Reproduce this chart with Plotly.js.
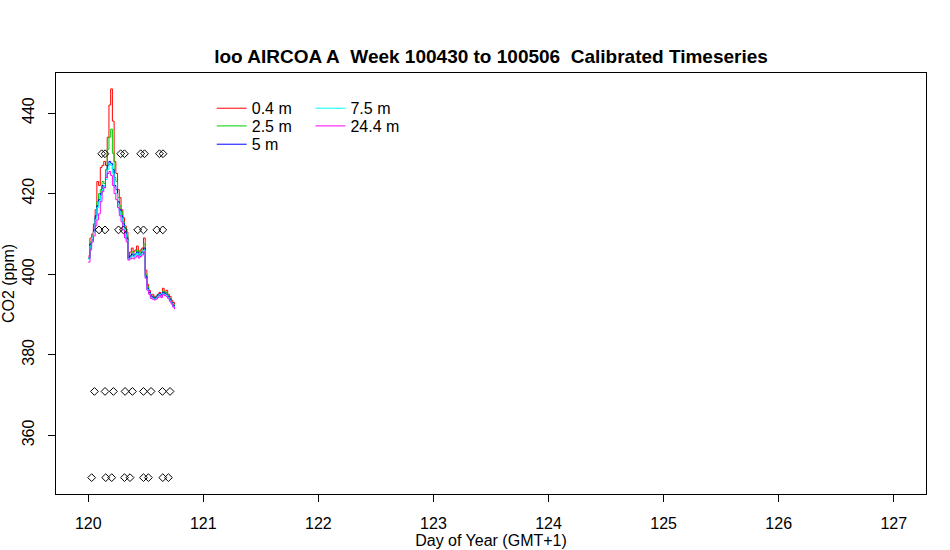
<!DOCTYPE html>
<html>
<head>
<meta charset="utf-8">
<script src="https://cdn.plot.ly/plotly-3.0.1.min.js"></script>
<style>html,body{margin:0;padding:0;background:#fff;}#chart{width:950px;height:550px;}</style>
</head>
<body>
<div id="chart"></div>
<script>
// Day of year (GMT+1)
const days = [120.000,120.015,120.030,120.045,120.060,120.075,120.090,120.105,120.120,120.135,
  120.150,120.165,120.180,120.195,120.210,120.225,120.240,120.255,120.270,120.285,
  120.300,120.315,120.330,120.345,120.360,120.375,120.390,120.405,120.420,120.435,
  120.450,120.465,120.480,120.495,120.510,120.525,120.540,120.555,120.570,120.585,
  120.600,120.615,120.630,120.645,120.660,120.675,120.690,120.705,120.720,120.735,120.750];

// CO2 (ppm) per inlet height
const co2_0_4m = [404.5,409,410,412.5,416,423,422,426.5,427,428,
  427,434,442,446,438,428,425,421,419,416,
  414,412,410.5,404.5,405.5,406.5,405.5,406,407,405.5,
  406,406.5,409,401,397.5,396,395,395,394.5,394.5,
  395,395.5,395,396.5,395.5,396,395,394.5,393.5,393,392.5];
const co2_2_5m = [404,408,409.5,410.5,414,418,420,421,423,422.5,
  426,431,434,436,430,424,423,419,417,415.5,
  413,411.5,409.5,404,404.5,405.5,405,405,406,405,
  405.5,406,407.5,400,397,395.5,394.8,394.5,394.2,394.5,
  394.8,395,394.5,395.8,395,395.5,394.8,394,393,392.5,392];
const co2_5m = [404,407.5,408.5,411,414.5,417,418.5,420,422,421.5,
  424,427,428,427.5,426,422,421,418,416,414.5,
  412.5,410.5,409,404,404.5,405,404.5,405,405.5,404.5,
  405,405.5,406.5,399.5,396.5,395.5,394.6,394.3,394,394.3,
  394.8,395.2,394.6,395.5,395.2,395,394.5,393.8,393,392.2,391.8];
const co2_7_5m = [403.8,407,409,410.5,413.5,416.5,418,419.5,421,422,
  423.5,426,427.5,427,425,421.5,420,417.5,415.5,414,
  412,410,408.5,403.8,404,404.5,404.2,404.8,405.2,404.3,
  404.8,405.2,406,399,396.2,395.2,394.2,394,393.8,394,
  394.5,395,394.4,395.2,394.9,394.8,394.2,393.5,392.8,392,391.5];
const co2_24_4m = [403,406,408,409.5,412,413.5,415,418,420.5,421.5,
  424,425,425.5,424.5,422,420,418.5,416.5,414.5,413,
  411,409,408,403.5,403.8,404,403.8,404.2,404.6,404,
  404.4,404.8,405.5,399,396,395,394,393.8,393.6,393.8,
  394.2,394.7,394.2,395,394.7,394.5,394,393.3,392.6,391.8,391.3];

// Calibration gas runs
const calA_days = [120.117,120.146,120.282,120.315,120.456,120.489,120.619,120.650];
const calA_ppm  = [429.9,429.9,429.9,429.9,429.9,429.9,429.9,429.9];
const calB_days = [120.094,120.146,120.263,120.306,120.430,120.480,120.596,120.648];
const calB_ppm  = [411.0,411.0,411.0,411.0,411.0,411.0,411.0,411.0];
const calC_days = [120.054,120.146,120.219,120.320,120.384,120.480,120.546,120.645,120.711];
const calC_ppm  = [370.9,370.9,370.9,370.9,370.9,370.9,370.9,370.9,370.9];
const calD_days = [120.030,120.152,120.204,120.315,120.363,120.480,120.523,120.648,120.697];
const calD_ppm  = [349.5,349.5,349.5,349.5,349.5,349.5,349.5,349.5,349.5];

const seriesNames = ['0.4 m','2.5 m','5 m','7.5 m','24.4 m'];
const seriesValues = [co2_0_4m, co2_2_5m, co2_5m, co2_7_5m, co2_24_4m];
const seriesColors = ['#FF0000','#00CD00','#0000FF','#00FFFF','#FF00FF'];

const xTicks = [120,121,122,123,124,125,126,127];
const yTicks = [360,380,400,420,440];

const FONT = 'Liberation Sans, Arial, sans-serif';

// legend layout: two columns (R legend with ncol = 2), one legend box per entry
const legendIds = ['legend','legend2','legend3','legend4','legend5'];
const legendX = [0.179, 0.179, 0.179, 0.2925, 0.2925];
const legendY = [0.9565, 0.9145, 0.871, 0.9565, 0.9145];

const traces = [];
seriesValues.forEach((v, k) => {
  traces.push({
    x: days, y: v, type: 'scatter', mode: 'lines', name: seriesNames[k],
    line: {color: seriesColors[k], width: 1, shape: 'hv'}, legend: legendIds[k]
  });
});
[[calA_days, calA_ppm],[calB_days, calB_ppm],[calC_days, calC_ppm],[calD_days, calD_ppm]].forEach(c => {
  traces.push({
    x: c[0], y: c[1], type: 'scatter', mode: 'markers', showlegend: false,
    marker: {symbol: 'diamond-open', size: 6, color: '#000000', line: {width: 1, color: '#000000'}}
  });
});

const layout = {
  width: 950, height: 550,
  paper_bgcolor: '#ffffff', plot_bgcolor: '#ffffff',
  margin: {l: 56, r: 24, t: 73, b: 56},
  font: {family: FONT, size: 16, color: '#000000'},
  title: {
    text: 'loo AIRCOA A\u00a0 Week 100430 to 100506\u00a0 Calibrated Timeseries',
    font: {family: FONT, size: 19, color: '#000000', weight: 'bold'},
    x: 0.5, xref: 'paper', xanchor: 'center',
    y: 1 - 56/550, yref: 'container', yanchor: 'middle'
  },
  xaxis: {
    range: [119.72, 127.28], tickvals: xTicks, ticktext: xTicks.map(String),
    showgrid: false, zeroline: false, showline: true, mirror: true,
    linecolor: '#000000', linewidth: 1, ticks: 'outside', ticklen: 7, tickcolor: '#000000',
    tickfont: {family: FONT, size: 16}, ticklabelstandoff: 8,
    title: {text: 'Day of Year (GMT+1)', font: {family: FONT, size: 16}, standoff: 2}
  },
  yaxis: {
    range: [345.44, 449.94], tickvals: yTicks, ticktext: yTicks.map(String),
    showgrid: false, zeroline: false, showline: true, mirror: true,
    linecolor: '#000000', linewidth: 1, ticks: 'outside', ticklen: 7, tickcolor: '#000000',
    tickangle: -90, tickfont: {family: FONT, size: 16}, ticklabelstandoff: 8,
    title: {text: 'CO2 (ppm)', font: {family: FONT, size: 16}, standoff: 0}
  },
  showlegend: true
};
legendIds.forEach((id, k) => {
  layout[id] = {
    x: legendX[k], y: legendY[k], xanchor: 'left', yanchor: 'top',
    bgcolor: 'rgba(0,0,0,0)', borderwidth: 0, font: {family: FONT, size: 16},
    orientation: 'v', itemwidth: 30
  };
});

Plotly.newPlot('chart', traces, layout, {displayModeBar: false, staticPlot: true});
</script>
</body>
</html>
